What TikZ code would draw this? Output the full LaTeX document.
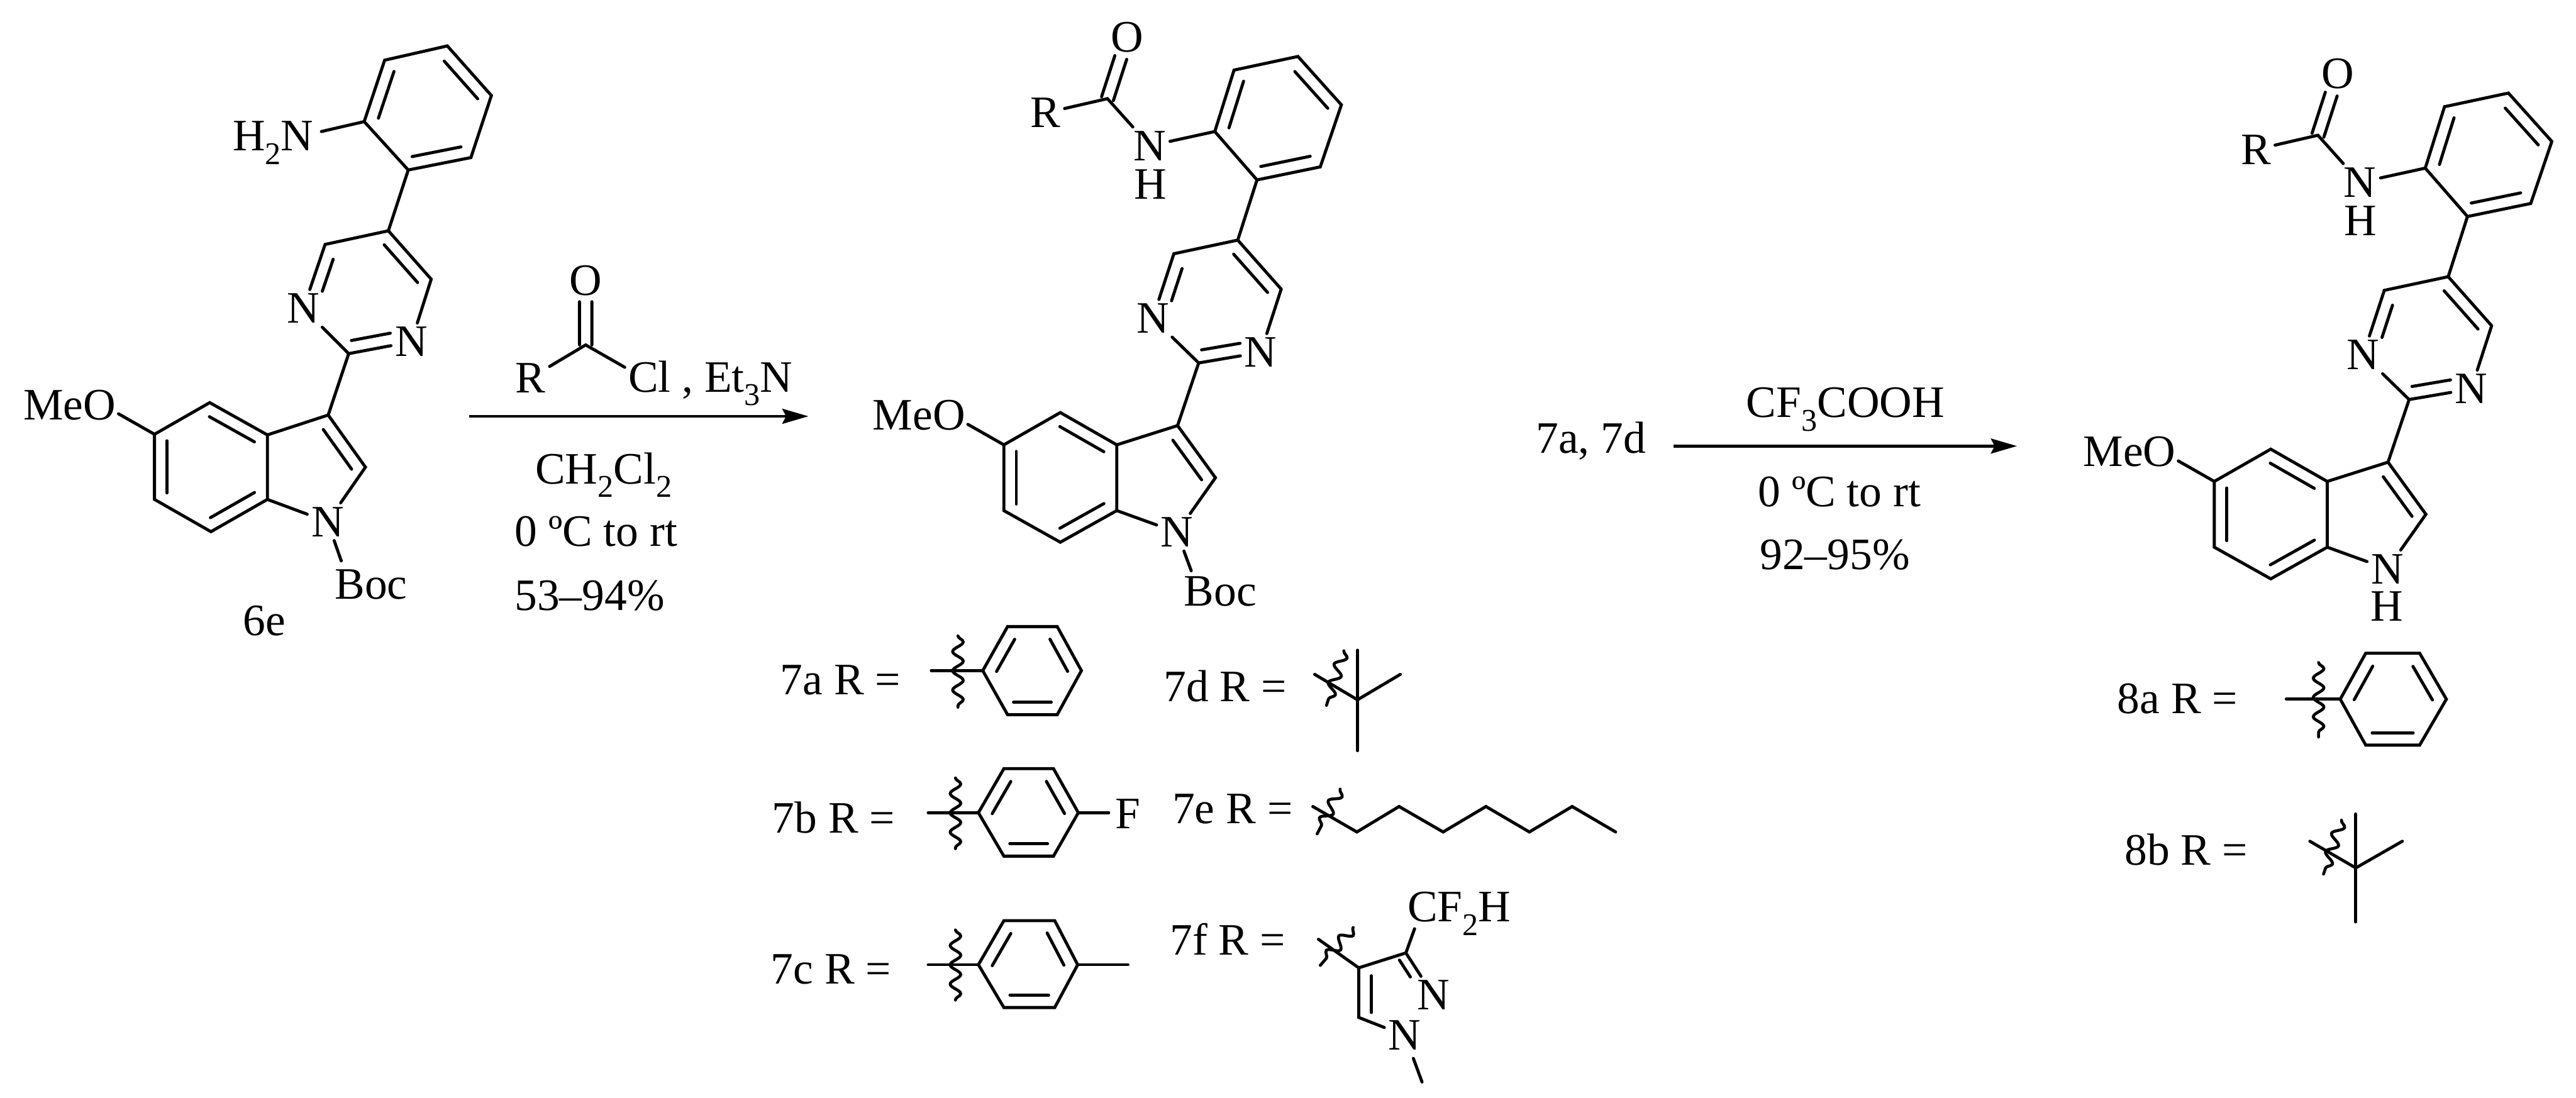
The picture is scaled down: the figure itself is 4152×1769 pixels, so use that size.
\documentclass[tikz,border=0pt]{standalone}
\usepackage{fontspec}
\setmainfont{Liberation Serif}
\usetikzlibrary{calc,arrows.meta,decorations.pathmorphing}
\tikzset{
  bond/.style={line width=1.4pt,line cap=round,line join=miter},
  wavyline/.style={line width=1.35pt,line cap=round,decorate,decoration={snake,segment length=.31cm,amplitude=.085cm}},
  rxn/.style={line width=1.4pt,-{Stealth[length=.42cm,width=.24cm,inset=.06cm]}},
  txt/.style={anchor=base west,inner sep=0pt},
  atom/.style={inner sep=1.7pt,anchor=center},
  atomh/.style={inner sep=0pt,anchor=center},
  every node/.style={font=\fontsize{20.6}{24}\selectfont}
}
\newcommand\ig{.2cm}
\newcommand\lowsub[1]{\raisebox{-.3em}{\fontsize{14.5}{14.5}\selectfont #1}}
% inner line of a double bond: a to b counter-clockwise round the ring, with end fractions
\newcommand\dblb[4]{\draw[bond] ($(#1)!#3!(#2)!\ig!90:(#2)$) -- ($(#2)!#4!(#1)!\ig!-90:(#1)$);}
% symmetric double bond a=b, stopping short of b
\newcommand\cdb[3]{%
  \draw[bond] ($(#1)!.1cm!90:(#2)$) -- ($(#2)!#3!(#1)!.1cm!-90:(#1)$);
  \draw[bond] ($(#1)!.1cm!-90:(#2)$) -- ($(#2)!#3!(#1)!.1cm!90:(#1)$);}
% phenyl ring: prefix, xl, xtl, xtr, xr, ytop, ymid, ybot
\newcommand\benzat[8]{%
  \coordinate (#1l) at (#2,#7); \coordinate (#1tl) at (#3,#6); \coordinate (#1tr) at (#4,#6);
  \coordinate (#1r) at (#5,#7); \coordinate (#1br) at (#4,#8); \coordinate (#1bl) at (#3,#8);
  \draw[bond] (#1l)--(#1tl)--(#1tr)--(#1r)--(#1br)--(#1bl)--cycle;
  \dblb{#1tl}{#1l}{.15}{.12}\dblb{#1bl}{#1br}{.12}{.12}\dblb{#1r}{#1tr}{.12}{.15}}
% bonds of the biaryl-pyrimidine-indole skeleton
\newcommand\skeleton[1]{%
  \draw[bond] (#1pf)--(#1pa)--(#1pb)--(#1pc)--(#1pd)--(#1pe)--cycle;
  \dblb{#1pf}{#1pe}{.12}{.12}\dblb{#1pd}{#1pc}{.1}{.12}\dblb{#1pb}{#1pa}{.1}{.14}
  \draw[bond] (#1pd)--(#1c5);
  \draw[bond] (#1c4)--(#1c5)--(#1c6)--(#1n1);
  \draw[bond] (#1n1)--(#1c2)--(#1n3);
  \draw[bond] (#1n3)--(#1c4);
  \dblb{#1c6}{#1n1}{.17}{.33}\dblb{#1c2}{#1n3}{.08}{.3}\dblb{#1c4}{#1c5}{.1}{.12}
  \draw[bond] (#1c2)--(#1i3);
  \draw[bond] (#1i3a)--(#1i3)--(#1i2)--(#1in);
  \draw[bond] (#1in)--(#1i7a);
  \draw[bond] (#1i7a)--(#1i3a)--(#1i4)--(#1i5)--(#1i6)--(#1i7)--cycle;
  \dblb{#1i5}{#1i6}{.1}{.1}\dblb{#1i7}{#1i7a}{.1}{.12}\dblb{#1i3a}{#1i4}{.12}{.1}\dblb{#1i2}{#1i3}{.1}{.14}
  \draw[bond] (#1i5)--(#1ome);}
% atoms shared by compounds 7 and 8
\newcommand\amidecore[1]{%
  \coordinate (#1pe) at (1958,212); \coordinate (#1pf) at (1989,113); \coordinate (#1pa) at (2092,91);
  \coordinate (#1pb) at (2162,169); \coordinate (#1pc) at (2128,269); \coordinate (#1pd) at (2026,290);
  \coordinate (#1c5) at (1995,387); \coordinate (#1c4) at (2065,466); \coordinate (#1c2) at (1932,585);
  \coordinate (#1c6) at (1892,409);
  \node[atom] (#1n3) at (2032,568) {N};
  \node[atom] (#1n1) at (1858,513) {N};
  \coordinate (#1i3) at (1898,686); \coordinate (#1i2) at (1959,770);
  \node[atom] (#1in) at (1897,858) {N};
  \coordinate (#1i7a) at (1800,823); \coordinate (#1i3a) at (1800,717); \coordinate (#1i4) at (1709,665);
  \coordinate (#1i5) at (1618,717); \coordinate (#1i6) at (1618,823); \coordinate (#1i7) at (1709,874);
  \coordinate (#1ome) at (1560,684);
  \node[txt] (#1meo) at (1406,693) {MeO};
  \node[atom] (#1R) at (1685,182) {R};
  \node[atom] (#1O) at (1817,60) {O};
  \coordinate (#1co) at (1785,159);
  \node[atom] (#1nh) at (1853,235) {N};
  \node[atomh] (#1hh) at (1854,297) {H};
  \draw[bond] (#1R)--(#1co)--(#1nh);
  \draw[bond] (#1nh)--(#1pe);
  \cdb{#1co}{#1O}{.33}
  \skeleton{#1}}
\begin{document}
\begin{tikzpicture}[x=.01cm,y=-.01cm]
\useasboundingbox (0,0) rectangle (4152,1769);
\fill[white] (0,0) rectangle (4152,1769);

% ---------- compound 6e
\coordinate (apa) at (721,74); \coordinate (apb) at (792,154); \coordinate (apc) at (759,254);
\coordinate (apd) at (658,274); \coordinate (ape) at (587,196); \coordinate (apf) at (620,97);
\coordinate (ac5) at (626,372); \coordinate (ac4) at (695,450); \coordinate (ac2) at (562,570);
\coordinate (ac6) at (524,394);
\node[atom] (an3) at (663,551) {N};
\node[atom] (an1) at (489,497) {N};
\coordinate (ai3) at (529,669); \coordinate (ai2) at (589,753);
\node[atom] (ain) at (528,841) {N};
\coordinate (ai7a) at (431,805); \coordinate (ai3a) at (431,701); \coordinate (ai4) at (338,649);
\coordinate (ai5) at (249,700); \coordinate (ai6) at (249,805); \coordinate (ai7) at (340,857);
\coordinate (aome) at (191,667);
\node[txt] (ameo) at (37,677) {MeO};
\node[txt,anchor=base east] (anh2) at (506,243) {H\lowsub{2}N};
\coordinate (anhend) at (518,212);
\draw[bond] (ape)--(anhend);
\skeleton{a}
\coordinate (abocend) at (550,904);
\node[txt] (aboc) at (539,965) {Boc};
\draw[bond] (ain)--(abocend);
\node[txt] (l6e) at (391,1024) {6e};

% ---------- first reaction
\node[atom] (rco) at (944,452) {O};
\coordinate (rcc) at (944,556);
\node[atom] (rR) at (855,609) {R};
\coordinate (rcl) at (1007,592);
\draw[bond] (rR)--(rcc)--(rcl);
\cdb{rcc}{rco}{.33}
\node[txt] (rclt) at (1012,632) {Cl , Et\lowsub{3}N};
\coordinate (ar1a) at (756,671); \coordinate (ar1b) at (1303,671);
\draw[rxn] (ar1a)--(ar1b);
\node[txt] (r1a) at (862,780) {CH\lowsub{2}Cl\lowsub{2}};
\node[txt] (r1b) at (829,880) {0 ºC to rt};
\node[txt] (r1c) at (829,984) {53–94\%};

% ---------- compound 7
\amidecore{b}
\coordinate (bbocend) at (1920,920);
\node[txt] (bboc) at (1908,977) {Boc};
\draw[bond] (bin)--(bbocend);

% ---------- second reaction
\node[txt] (s0) at (2475,730) {7a, 7d};
\coordinate (ar2a) at (2697,719); \coordinate (ar2b) at (3251,719);
\draw[rxn] (ar2a)--(ar2b);
\node[txt] (s1) at (2814,673) {CF\lowsub{3}COOH};
\node[txt] (s2) at (2833,816) {0 ºC to rt};
\node[txt] (s3) at (2836,918) {92–95\%};

% ---------- compound 8
\begin{scope}[shift={(1951,59)}]
\amidecore{c}
\end{scope}
\node[atomh] (chb) at (3847,977) {H};

% ---------- R groups 7a-7c
\node[txt] (t7a) at (1257,1120) {7a R =};
\benzat{ga}{1584}{1624}{1704}{1743}{1010}{1081}{1152}
\coordinate (ga0) at (1501,1081); \draw[bond] (ga0)--(gal);
\coordinate (gaw1) at (1544,1025); \coordinate (gaw2) at (1544,1140);
\draw[wavyline] (gaw1)--(gaw2);

\node[txt] (t7b) at (1244,1343) {7b R =};
\benzat{gb}{1577}{1618}{1698}{1738}{1239}{1310}{1380}
\coordinate (gb0) at (1496,1310); \draw[bond] (gb0)--(gbl);
\coordinate (gbw1) at (1540,1254); \coordinate (gbw2) at (1540,1368);
\draw[wavyline] (gbw1)--(gbw2);
\node[atom] (gbF) at (1818,1312) {F};
\coordinate (gbe) at (1787,1310); \draw[bond] (gbr)--(gbe);

\node[txt] (t7c) at (1242,1586) {7c R =};
\benzat{gc}{1577}{1618}{1700}{1737}{1484}{1555}{1624}
\coordinate (gc0) at (1496,1555); \draw[bond] (gc0)--(gcl);
\coordinate (gcw1) at (1540,1499); \coordinate (gcw2) at (1540,1612);
\draw[wavyline] (gcw1)--(gcw2);
\coordinate (gce) at (1818,1555); \draw[bond] (gcr)--(gce);

% ---------- 7d
\node[txt] (t7d) at (1875,1131) {7d R =};
\coordinate (dc) at (2188,1128); \coordinate (du) at (2188,1048); \coordinate (dr) at (2257,1087);
\coordinate (dd) at (2188,1210); \coordinate (dl) at (2119,1087);
\draw[bond] (du)--(dd); \draw[bond] (dl)--(dc)--(dr);
\coordinate (dw1) at (2166,1049); \coordinate (dw2) at (2138,1137);
\draw[wavyline] (dw1)--(dw2);

% ---------- 7e
\node[txt] (t7e) at (1889,1327) {7e R =};
\coordinate (e0) at (2116,1300); \coordinate (e1) at (2187,1341); \coordinate (e2) at (2255,1300);
\coordinate (e3) at (2326,1341); \coordinate (e4) at (2395,1300); \coordinate (e5) at (2465,1341);
\coordinate (e6) at (2534,1300); \coordinate (e7) at (2604,1341);
\draw[bond] (e0)--(e1)--(e2)--(e3)--(e4)--(e5)--(e6)--(e7);
\coordinate (ew1) at (2160,1272); \coordinate (ew2) at (2123,1344);
\draw[wavyline] (ew1)--(ew2);

% ---------- 7f
\node[txt] (t7f) at (1885,1539) {7f R =};
\coordinate (fc4) at (2190,1560); \coordinate (fc3) at (2266,1536); \coordinate (fc5) at (2190,1640);
\node[atom] (fn2) at (2310,1604) {N};
\node[atom] (fn1) at (2264,1669) {N};
\coordinate (f0) at (2125,1514); \coordinate (fcf) at (2280,1497); \coordinate (fme) at (2292,1744);
\coordinate (fmes) at (2278,1706);
\draw[bond] (f0)--(fc4)--(fc3)--(fn2);
\draw[bond] (fc4)--(fc5)--(fn1);
\draw[bond] (fc3)--(fcf);
\draw[bond] (fmes)--(fme);
\dblb{fc4}{fc5}{.16}{.1}
\begin{scope}\renewcommand\ig{.15cm}\dblb{fn2}{fc3}{.55}{.05}\end{scope}
\node[txt] (fcft) at (2268,1486) {CF\lowsub{2}H};
\coordinate (fw1) at (2181,1495); \coordinate (fw2) at (2128,1556);
\draw[wavyline] (fw1)--(fw2);

% ---------- 8a, 8b
\node[txt] (t8a) at (3412,1150) {8a R =};
\benzat{ha}{3772}{3813}{3900}{3943}{1053}{1127}{1201}
\coordinate (ha0) at (3685,1127); \draw[bond] (ha0)--(hal);
\coordinate (haw1) at (3737,1068); \coordinate (haw2) at (3737,1188);
\draw[wavyline] (haw1)--(haw2);

\node[txt] (t8b) at (3424,1394) {8b R =};
\coordinate (kc) at (3797,1399); \coordinate (ku) at (3797,1312); \coordinate (kr) at (3872,1356);
\coordinate (kd) at (3797,1486); \coordinate (kl) at (3723,1356);
\draw[bond] (ku)--(kd); \draw[bond] (kl)--(kc)--(kr);
\coordinate (kw1) at (3774,1322); \coordinate (kw2) at (3745,1409);
\draw[wavyline] (kw1)--(kw2);
\end{tikzpicture}
\end{document}
